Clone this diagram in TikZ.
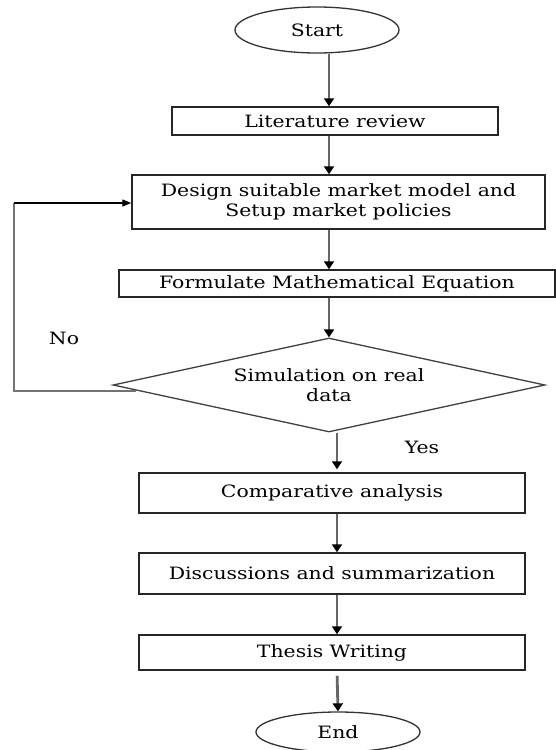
\documentclass[tikz,border=0pt]{standalone}
\usepackage{fontspec}
\setmainfont{DejaVu Serif}[FakeStretch=1.2]
\usetikzlibrary{shapes.geometric,arrows.meta}
\begin{document}
\begin{tikzpicture}[x=1pt,y=-1pt,
  every node/.style={font=\fontsize{17}{20}\selectfont, text=black},
  procbox/.style={draw=black!85, line width=1.5pt, rectangle, inner sep=0pt},
  term/.style={draw=black!80, line width=1.3pt, ellipse, inner sep=0pt},
  decide/.style={draw=black!75, line width=1.3pt, diamond, aspect=4.6, inner sep=0pt, align=center},
  flow/.style={draw=black!60, line width=2.8pt, -{Triangle[width=10pt,length=8pt,color=black]}},
  back/.style={draw=black!55, line width=2.4pt},
  thinflow/.style={draw=black, line width=1.1pt, -{Triangle[width=7pt,length=9pt]}},
]
\useasboundingbox (0,0) rectangle (556,750);
\fill[white] (0,0) rectangle (556,750);

\node[term, minimum width=164pt, minimum height=46pt] (start) at (317,30) {Start};
\node[procbox, minimum width=326pt, minimum height=28pt] (lit) at (335,121) {Literature review};
\node[procbox, minimum width=413pt, minimum height=54pt, align=center] (design) at (338.5,202) {Design suitable market model and\\Setup market policies};
\node[procbox, minimum width=436pt, minimum height=27pt] (form) at (337,283.5) {Formulate Mathematical Equation};
\node[decide, minimum width=432pt, minimum height=94pt] (dia) at (329,385) {Simulation on real\\data};
\node[procbox, minimum width=386pt, minimum height=40pt] (comp) at (332,493) {Comparative analysis};
\node[procbox, minimum width=386pt, minimum height=41pt] (disc) at (332,573.5) {Discussions and summarization};
\node[procbox, minimum width=386pt, minimum height=35pt] (thesis) at (332,652.5) {Thesis Writing};
\node[term, minimum width=164pt, minimum height=40pt] (end) at (338,732) {End};
\node (no) at (64,338) {No};
\node (yes) at (422,447) {Yes};

\coordinate (axA) at (329,0);
\coordinate (axB) at (337,0);
\draw[flow] (start.south -| axA) -- (lit.north -| axA);
\draw[flow] (lit.south -| axA) -- (design.north -| axA);
\draw[flow] (design.south -| axA) -- (form.north -| axA);
\draw[flow] (form.south -| axA) -- (dia.north);
\draw[flow, shorten >=3pt] (dia.south -| axB) -- (comp.north -| axB);
\draw[flow] (comp.south -| axB) -- (disc.north -| axB);
\draw[flow] (disc.south -| axB) -- (thesis.north -| axB);
\draw[flow, shorten <=5pt] (thesis.south -| axB) -- (end.north);

\coordinate (fbS) at (136,391);
\coordinate (fbB) at (14,391);
\coordinate (fbT) at (14,203);
\draw[back] (fbS) -- (fbB) -- (fbT);
\draw[thinflow] (fbT) -- (design.west |- fbT);
\end{tikzpicture}
\end{document}
